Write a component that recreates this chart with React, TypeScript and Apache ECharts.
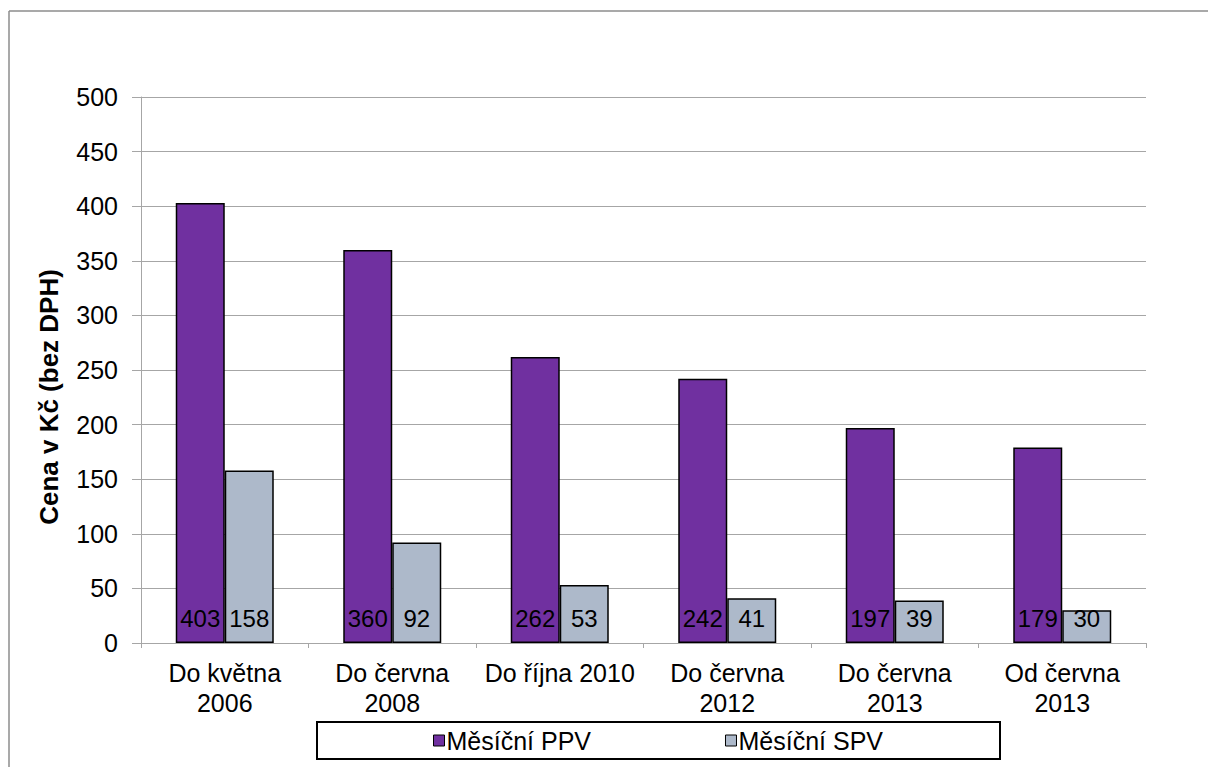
import React, { useEffect, useRef } from "react";
import * as echarts from "echarts";

const categories = [
  "Do května\n2006",
  "Do června\n2008",
  "Do října 2010",
  "Do června\n2012",
  "Do června\n2013",
  "Od června\n2013",
];
const ppvValues = [403, 360, 262, 242, 197, 179];
const spvValues = [158, 92, 53, 41, 39, 30];
const seriesNames = ["Měsíční PPV", "Měsíční SPV"];
const yAxisTitle = "Cena v Kč (bez DPH)";

const FONT = "Liberation Sans, Arial, sans-serif";

export default function App() {
  const ref = useRef<HTMLDivElement>(null);
  useEffect(() => {
    document.body.style.margin = "0";
    const chart = echarts.init(ref.current!, null, { renderer: "svg" });
    const gridColor = "#a6a6a6";
    const label = {
      show: true,
      position: "insideBottom",
      distance: 13,
      color: "#000",
      fontSize: 24,
      fontFamily: FONT,
    };
    chart.setOption({
      animation: false,
      backgroundColor: "#fff",
      textStyle: { fontFamily: FONT },
      grid: { left: 141, top: 97, right: 62, bottom: 124 },
      graphic: [
        { type: "line", shape: { x1: 9, y1: 11, x2: 1208, y2: 11 }, style: { stroke: "#8c8c8c", lineWidth: 1.5 } },
        { type: "line", shape: { x1: 9, y1: 11, x2: 9, y2: 767 }, style: { stroke: "#8c8c8c", lineWidth: 1.5 } },
        {
          type: "rect",
          shape: { x: 317, y: 722, width: 683, height: 37 },
          style: { fill: "none", stroke: "#000", lineWidth: 2 },
          z: 100,
        },
        {
          type: "text",
          x: 49,
          y: 397,
          rotation: Math.PI / 2,
          style: {
            text: yAxisTitle,
            fontSize: 26,
            fontWeight: "bold",
            fill: "#000",
            fontFamily: FONT,
            align: "center",
            verticalAlign: "middle",
          },
        },
      ],
      legend: {
        data: seriesNames,
        left: 433,
        top: 728,
        padding: 0,
        itemWidth: 11,
        itemHeight: 11,
        itemGap: 134,
        icon: "rect",
        itemStyle: { borderColor: "#000", borderWidth: 1 },
        textStyle: { fontSize: 25, color: "#000", fontFamily: FONT, padding: [0, 0, 0, -3] },
      },
      xAxis: {
        type: "category",
        data: categories,
        axisLine: { lineStyle: { color: gridColor, width: 1 } },
        axisTick: { show: true, length: 5, lineStyle: { color: gridColor } },
        axisLabel: {
          color: "#000",
          fontSize: 25,
          fontFamily: FONT,
          margin: 15,
          lineHeight: 30,
          interval: 0,
        },
      },
      yAxis: {
        type: "value",
        min: 0,
        max: 500,
        interval: 50,
        axisLine: { show: true, lineStyle: { color: gridColor, width: 1 } },
        axisTick: { show: true, length: 9, lineStyle: { color: gridColor } },
        splitLine: { lineStyle: { color: gridColor, width: 1 } },
        axisLabel: { color: "#000", fontSize: 25, fontFamily: FONT, margin: 23 },
      },
      series: [
        {
          name: seriesNames[0],
          type: "bar",
          data: ppvValues,
          barGap: "0%",
          barWidth: 49,
          itemStyle: { color: "#7030a0", borderColor: "#000", borderWidth: 1.5 },
          label,
        },
        {
          name: seriesNames[1],
          type: "bar",
          data: spvValues,
          barWidth: 49,
          itemStyle: { color: "#adb9ca", borderColor: "#000", borderWidth: 1.5 },
          label,
        },
      ],
    });
    return () => chart.dispose();
  }, []);
  return <div ref={ref} style={{ width: 1208, height: 767 }} />;
}
